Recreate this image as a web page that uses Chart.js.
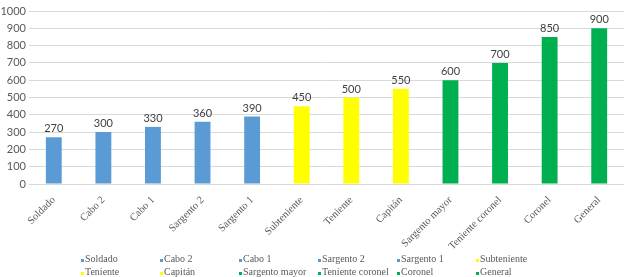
<!DOCTYPE html>
<html>
<head>
<meta charset="utf-8">
<script src="https://cdn.jsdelivr.net/npm/chart.js@4"></script>
<style>
  html, body { margin: 0; padding: 0; background: #fff; }
  #wrap { position: relative; width: 624px; height: 277px; }
  #legend {
    position: absolute; left: 81px; top: 252px;
    display: grid; grid-template-columns: repeat(6, 79px);
    grid-auto-rows: 13px;
    font: 10px "Liberation Serif", serif; color: #595959;
  }
  #legend span { white-space: nowrap; display: flex; align-items: flex-end; line-height: 13px; }
  #legend i { display: inline-block; width: 3px; height: 3px; margin: 0 1px 3px 0; }
</style>
</head>
<body>
<div id="wrap">
  <canvas id="rank-chart" width="624" height="277"></canvas>
  <div id="legend"></div>
</div>
<script>
// Valores del grafico
const ranks = ['Soldado', 'Cabo 2', 'Cabo 1', 'Sargento 2', 'Sargento 1', 'Subteniente',
  'Teniente', 'Capitán', 'Sargento mayor', 'Teniente coronel', 'Coronel', 'General'];
const values = [270, 300, 330, 360, 390, 450, 500, 550, 600, 700, 850, 900];
const groups = ['blue', 'blue', 'blue', 'blue', 'blue', 'yellow',
  'yellow', 'yellow', 'green', 'green', 'green', 'green'];
const yTicks = [0, 100, 200, 300, 400, 500, 600, 700, 800, 900, 1000];

const palette = { blue: '#5b9bd5', yellow: '#ffff00', green: '#00b050' };
const barColors = groups.map(g => palette[g]);

// numbers above each bar
const valueLabels = {
  id: 'valueLabels',
  afterDatasetsDraw(chart) {
    const ctx = chart.ctx;
    const meta = chart.getDatasetMeta(0);
    ctx.save();
    ctx.font = '11px Lato, "Noto Sans", sans-serif';
    ctx.fillStyle = '#404040';
    ctx.textAlign = 'center';
    ctx.textBaseline = 'bottom';
    meta.data.forEach((bar, i) => {
      ctx.fillText(String(values[i]), bar.x, bar.y - 3);
    });
    ctx.restore();
  }
};

const ctx = document.getElementById('rank-chart').getContext('2d');
new Chart(ctx, {
  type: 'bar',
  data: {
    labels: ranks,
    datasets: [{
      data: values,
      backgroundColor: barColors,
      categoryPercentage: 1,
      barPercentage: 0.32
    }]
  },
  options: {
    responsive: false,
    animation: false,
    layout: { padding: { top: 11, right: 0, left: 0, bottom: 0 } },
    plugins: { legend: { display: false }, tooltip: { enabled: false } },
    scales: {
      x: {
        grid: { display: false },
        border: { display: false },
        ticks: {
          color: '#595959',
          font: { family: '"Liberation Serif", serif', size: 10.5 },
          minRotation: 45, maxRotation: 45,
          autoSkip: false, padding: 2
        },
        afterFit(scale) { scale.height = 93; }
      },
      y: {
        min: 0, max: 1000,
        afterBuildTicks(scale) { scale.ticks = yTicks.map(v => ({ value: v })); },
        grid: { color: '#d9d9d9', drawTicks: false },
        border: { display: false },
        ticks: {
          color: '#595959',
          font: { family: 'Lato, "Noto Sans", sans-serif', size: 11 },
          padding: 3,
          callback: v => String(v)
        },
        afterFit(scale) { scale.width = 29; }
      }
    }
  },
  plugins: [valueLabels]
});

// legend built from the same arrays
const legend = document.getElementById('legend');
ranks.forEach((r, i) => {
  const item = document.createElement('span');
  const mark = document.createElement('i');
  mark.style.background = barColors[i];
  item.appendChild(mark);
  item.appendChild(document.createTextNode(r));
  legend.appendChild(item);
});
</script>
</body>
</html>
